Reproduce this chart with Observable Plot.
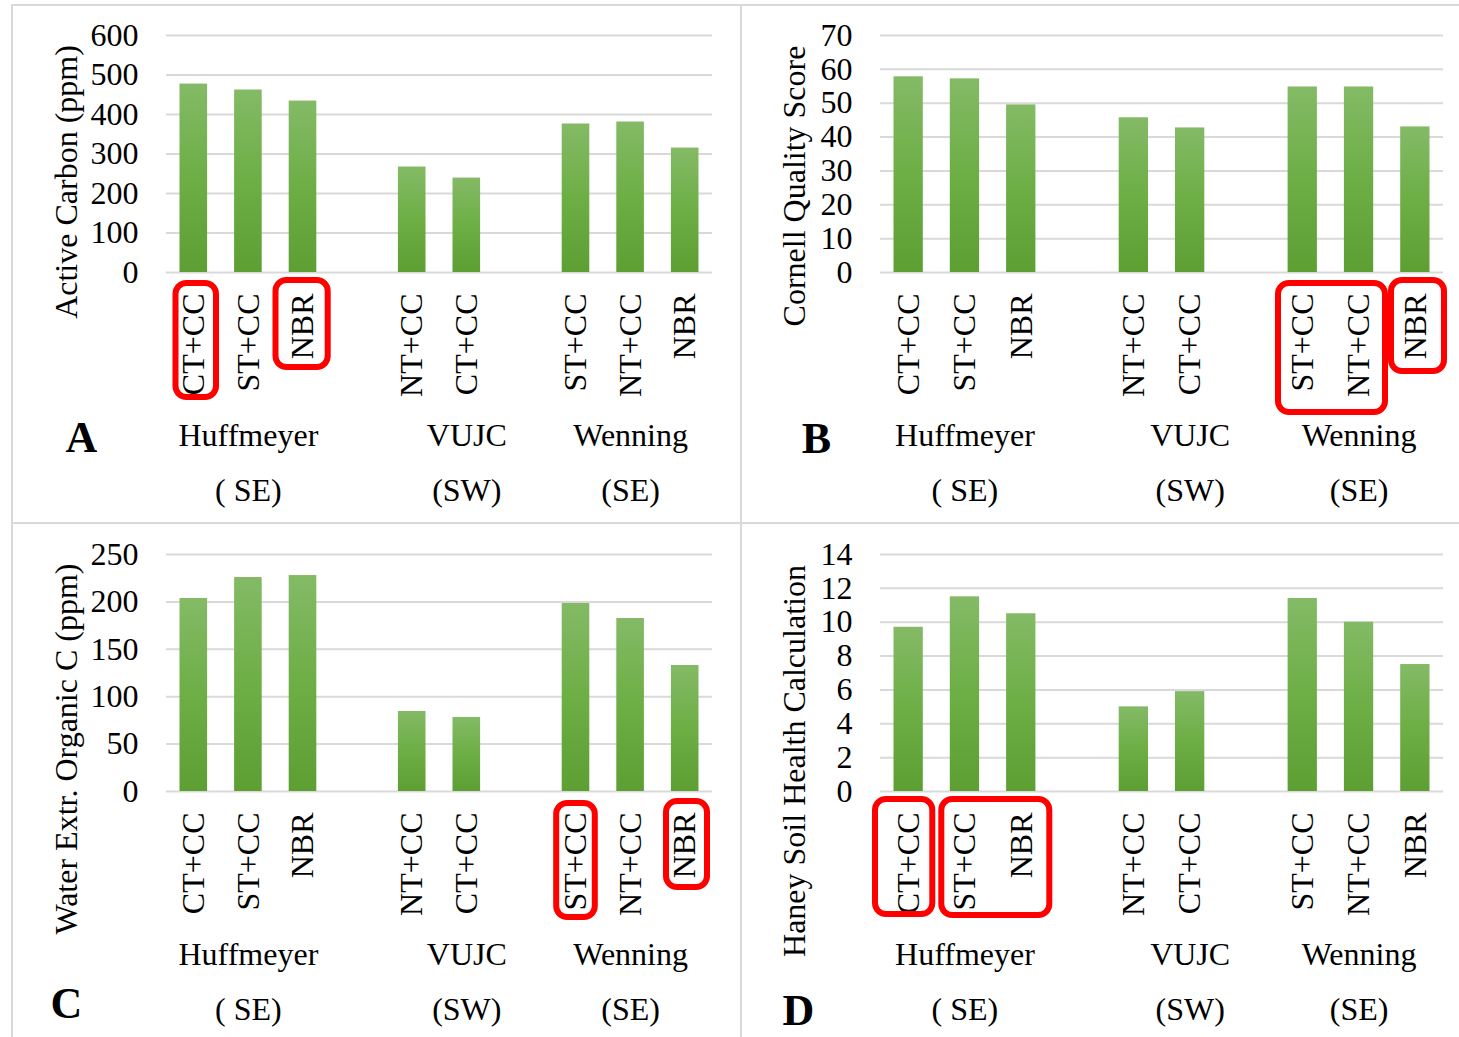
<!DOCTYPE html>
<html>
<head>
<meta charset="utf-8">
<script src="https://cdn.jsdelivr.net/npm/d3@7"></script>
<script src="https://cdn.jsdelivr.net/npm/@observablehq/plot@0.6"></script>
<style>
  html, body { margin: 0; padding: 0; background: #fff; overflow: hidden; }
  #page { position: relative; width: 1459px; height: 1037px; background: #fff; overflow: hidden; }
  .line { position: absolute; background: #d9d9d9; }
  .panel { position: absolute; }
  .panel svg { display: block; max-width: none !important; }
</style>
</head>
<body>
<div id="page">
  <div class="line" style="left:11px; top:4px; width:1448px; height:2px"></div>
  <div class="line" style="left:11px; top:522px; width:1448px; height:2px"></div>
  <div class="line" style="left:11px; top:4px; width:2px; height:1033px"></div>
  <div class="line" style="left:740px; top:4px; width:2px; height:1033px"></div>
  <div class="panel" id="pA" style="left:12px; top:5px"></div>
  <div class="panel" id="pB" style="left:741px; top:5px"></div>
  <div class="panel" id="pC" style="left:12px; top:523px"></div>
  <div class="panel" id="pD" style="left:741px; top:523px"></div>
</div>
<script>
// ---------- data ----------
const sites = ["Huffmeyer", "VUJC", "Wenning"];
const regions = ["( SE)", "(SW)", "(SE)"];
const siteTreatments = [["CT+CC", "ST+CC", "NBR"], ["NT+CC", "CT+CC"], ["ST+CC", "NT+CC", "NBR"]];

const activeCarbon = [477, 462, 434, 267, 239, 376, 381, 315];
const cornellScore = [57.8, 57.2, 49.5, 45.7, 42.7, 54.8, 54.8, 43.0];
const waterExtrOC = [203.6, 225.7, 227.8, 84.4, 78.1, 198.3, 182.5, 132.9];
const haneyScore = [9.7, 11.5, 10.5, 5.0, 5.9, 11.4, 10.0, 7.5];

const ticksA = [0, 100, 200, 300, 400, 500, 600];
const ticksB = [0, 10, 20, 30, 40, 50, 60, 70];
const ticksC = [0, 50, 100, 150, 200, 250];
const ticksD = [0, 2, 4, 6, 8, 10, 12, 14];

// ---------- category layout (slots, one blank between groups) ----------
const groupStart = [0, 4, 7];
const slotCount = 10;

function buildRows(values) {
  const rows = [];
  let k = 0;
  siteTreatments.forEach((ts, g) => ts.forEach((t, j) => {
    rows.push({site: sites[g], treatment: t, slot: groupStart[g] + j, value: values[k++]});
  }));
  return rows;
}
const groups = sites.map((s, g) => ({site: s, region: regions[g], center: groupStart[g] + 1}));

const FONT = "'Liberation Serif', 'Times New Roman', Times, serif";
const NS = "http://www.w3.org/2000/svg";

function defsMark(id) {
  return () => {
    const defs = document.createElementNS(NS, "defs");
    defs.innerHTML =
      `<linearGradient id="grad-${id}" x1="0" y1="0" x2="0" y2="1">
         <stop offset="0" stop-color="#84ba66"/>
         <stop offset="0.5" stop-color="#6dae45"/>
         <stop offset="1" stop-color="#5e9f34"/>
       </linearGradient>
       <filter id="shadow-${id}" x="-30%" y="-10%" width="160%" height="120%">
         <feDropShadow dx="0.8" dy="0" stdDeviation="1.6" flood-color="#000" flood-opacity="0.35"/>
       </filter>`;
    return defs;
  };
}

function box(from, to, l, r, t, b) {
  return Plot.rect([{from, to}], {
    x1: d => d.from, x2: d => d.to + 1,
    y1: () => 0, y2: () => 0,
    insetLeft: l, insetRight: r, insetTop: t, insetBottom: -b,
    rx: 11, fill: "none", stroke: "#ff0000", strokeWidth: 6
  });
}

function panel(cfg) {
  const rows = buildRows(cfg.values);
  const svg = Plot.plot({
    width: cfg.width,
    height: cfg.height,
    marginLeft: cfg.ml, marginRight: cfg.mr, marginTop: cfg.mt, marginBottom: cfg.mb,
    style: {fontFamily: FONT, fontSize: "32px", color: "#000", background: "transparent", overflow: "visible"},
    x: {domain: [0, slotCount], axis: null},
    y: {domain: [cfg.ticks[0], cfg.ticks[cfg.ticks.length - 1]]},
    marks: [
      defsMark(cfg.id),
      Plot.gridY({ticks: cfg.ticks, stroke: "#d9d9d9", strokeOpacity: 1, strokeWidth: 2}),
      Plot.rectY(rows, {
        x1: "slot", x2: d => d.slot + 1, y: "value",
        insetLeft: 13.5, insetRight: 13.5,
        fill: `url(#grad-${cfg.id})`, ariaLabel: "bars"
      }),
      Plot.axisY({ticks: cfg.ticks, tickSize: 0, tickPadding: 28, label: null, fill: "#000"}),
      Plot.text(rows, {
        x: d => d.slot + 0.5, text: "treatment", frameAnchor: "bottom",
        rotate: -90, textAnchor: "end", lineAnchor: "middle", dy: 21, fill: "#000"
      }),
      Plot.text(groups, {x: d => d.center + 0.5, text: "site", frameAnchor: "bottom", lineAnchor: "bottom", dy: 173, fill: "#000"}),
      Plot.text(groups, {x: d => d.center + 0.5, text: "region", frameAnchor: "bottom", lineAnchor: "bottom", dy: 228, fill: "#000"}),
      Plot.text([cfg.title], {
        text: d => d, frameAnchor: "left", rotate: -90, textAnchor: "middle",
        lineAnchor: "bottom", dx: cfg.titleDx, dy: cfg.titleDy, fill: "#000"
      }),
      Plot.text([cfg.letter], {
        text: d => d, frameAnchor: "bottom-left", textAnchor: "middle", lineAnchor: "bottom",
        dx: cfg.letterDx, dy: cfg.letterDy, fontWeight: "bold", fontSize: 44, fill: "#000"
      }),
      ...cfg.boxes
    ]
  });
  const bars = svg.querySelector('g[aria-label="bars"]');
  if (bars) bars.setAttribute("filter", `url(#shadow-${cfg.id})`);
  document.getElementById(cfg.target).appendChild(svg);
}

panel({
  id: "A", target: "pA", values: activeCarbon, ticks: ticksA,
  width: 729, height: 518, ml: 154, mr: 29, mt: 30, mb: 251,
  title: "Active Carbon (ppm)", titleDx: -90, titleDy: 28,
  letter: "A", letterDx: -85, letterDy: 179,
  boxes: [box(0, 0, 9.5, 4.6, 11, 125), box(2, 2, 0.3, 2.1, 8, 95)]
});
panel({
  id: "B", target: "pB", values: cornellScore, ticks: ticksB,
  width: 718, height: 518, ml: 139, mr: 16, mt: 30, mb: 251,
  title: "Cornell Quality Score", titleDx: -76, titleDy: 32,
  letter: "B", letterDx: -64, letterDy: 180,
  boxes: [box(7, 8, 3.9, 1.7, 11, 140), box(9, 9, 4.3, -1, 8, 99)]
});
panel({
  id: "C", target: "pC", values: waterExtrOC, ticks: ticksC,
  width: 729, height: 514, ml: 154, mr: 29, mt: 31, mb: 246,
  title: "Water Extr. Organic C (ppm)", titleDx: -90, titleDy: 76,
  letter: "C", letterDx: -100, letterDy: 226,
  boxes: [box(7, 7, 8, 8, 12, 126), box(9, 9, 8.6, 5, 10, 96)]
});
panel({
  id: "D", target: "pD", values: haneyScore, ticks: ticksD,
  width: 718, height: 514, ml: 139, mr: 16, mt: 31, mb: 246,
  title: "Haney Soil Health Calculation", titleDx: -76, titleDy: 88,
  letter: "D", letterDx: -82, letterDy: 233,
  boxes: [box(0, 0, -5, 4, 8, 123), box(1, 2, 5, -0.4, 8, 124)]
});
</script>
</body>
</html>
